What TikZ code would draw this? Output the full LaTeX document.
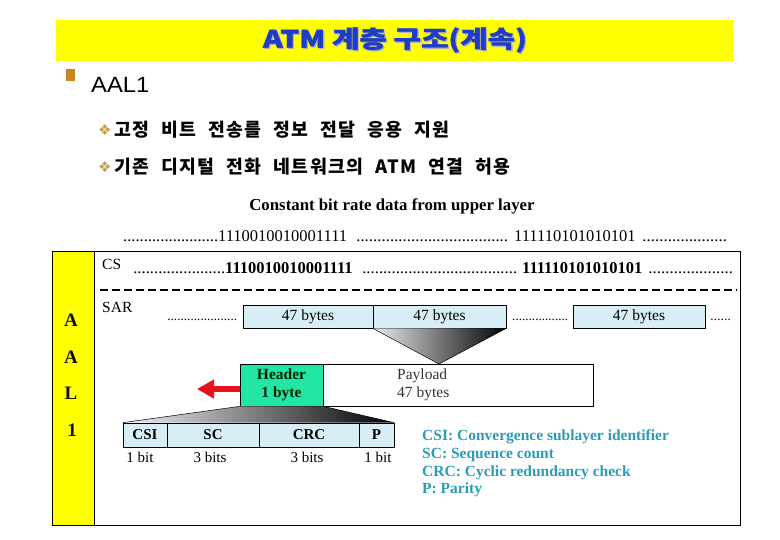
\documentclass[tikz,border=0pt]{standalone}
\usepackage{fontspec}
\setmainfont{Liberation Serif}
\newfontfamily\krfont[WordSpace=2.1,LetterSpace=8]{Noto Sans CJK KR}
\newfontfamily\titlefont[BoldFeatures={FakeBold=1.5}]{Noto Sans CJK KR}
\newfontfamily\arialfont{Liberation Sans}
\newfontfamily\djvfont{DejaVu Sans}
\usetikzlibrary{arrows.meta}
\definecolor{baryellow}{HTML}{FFFF00}
\definecolor{titleblue}{HTML}{1E3CC8}
\definecolor{sqgold}{HTML}{C8861E}
\definecolor{diagold}{HTML}{C9A04A}
\definecolor{boxblue}{HTML}{D8EEF6}
\definecolor{hdrgreen}{HTML}{22E6A6}
\definecolor{arrred}{HTML}{E8101A}
\definecolor{legteal}{HTML}{2A9CB6}
\newcommand\dts[1]{\hbox to #1pt{\xleaders\hbox{.}\hfill}}
\tikzset{
  every node/.style={inner sep=0pt},
  rowtxt/.style={anchor=base west, font=\fontsize{16.5}{18}\selectfont},
  byteb/.style={draw=black, line width=0.6pt, fill=boxblue, minimum height=23pt, font=\fontsize{15.5}{17}\selectfont},
  fieldb/.style={draw=black, line width=0.6pt, fill=boxblue, minimum height=24pt, font=\bfseries\fontsize{15}{17}\selectfont},
  bitlbl/.style={font=\fontsize{15}{17}\selectfont},
  aalletter/.style={font=\bfseries\fontsize{19}{21}\selectfont, text=black!90!brown},
  legend/.style={anchor=west, text=legteal, font=\bfseries\fontsize{15.5}{17}\selectfont},
  kr/.style={anchor=west, font=\krfont\bfseries\fontsize{18.3}{20}\selectfont},
  dia/.style={anchor=west, text=diagold, font=\djvfont\fontsize{15}{16}\selectfont},
}
\begin{document}
\begin{tikzpicture}[x=1pt,y=-1pt]
\useasboundingbox (0,0) rectangle (780,540);
% title bar
\node[fill=baryellow, minimum width=677pt, minimum height=41pt] (bar) at (394.5,40.5) {};
\node[text=black!30, font=\titlefont\bfseries\fontsize{24}{26}\selectfont] (titlesh) at (396.3,41.3) {\scalebox{1.24}[1]{ATM 계층 구조(계속)}};
\node[text=titleblue, font=\titlefont\bfseries\fontsize{24}{26}\selectfont] (title) at (395,40) {\scalebox{1.24}[1]{ATM 계층 구조(계속)}};
% bullets
\fill[sqgold] (66,69) rectangle (75,81);
\node[anchor=west, font=\arialfont\fontsize{22}{24}\selectfont] (aal) at (91,85) {\scalebox{1.08}[1]{AAL1}};
\node[dia] (d1) at (98,130) {❖};
\node[kr] (k1) at (114,130) {고정 비트 전송를 정보 전달 응용 지원};
\node[dia] (d2) at (98,167) {❖};
\node[kr] (k2) at (114,167) {기존 디지털 전화 네트워크의 ATM 연결 허용};
% diagram header
\node[font=\bfseries\fontsize{16.8}{18}\selectfont] (cbr) at (392,206) {Constant bit rate data from upper layer};
\node[rowtxt] (t1) at (123,241.5) {\dts{95}};
\node[rowtxt] (t2) at (218,241.5) {1110010010001111};
\node[rowtxt] (t3) at (356,241.5) {\dts{152}};
\node[rowtxt] (t4) at (514,241.5) {111110101010101};
\node[rowtxt] (t5) at (642,241.5) {\dts{85}};
% main box
\fill[baryellow] (52,251) rectangle (94,525);
\draw[line width=0.8pt] (52,251) rectangle (740,525);
\draw[line width=0.8pt] (94,251) -- (94,525);
\node[aalletter] (la1) at (71,320) {A};
\node[aalletter] (la2) at (71,357) {A};
\node[aalletter] (ll) at (71,393) {L};
\node[aalletter] (l1) at (72,430) {1};
% CS row
\node[anchor=base west, font=\fontsize{15.5}{17}\selectfont] (cs) at (102,270) {CS};
\node[rowtxt] (c1) at (133,273.5) {\dts{92}};
\node[rowtxt, font=\bfseries\fontsize{16.5}{18}\selectfont] (c2) at (225,273.5) {1110010010001111};
\node[rowtxt] (c3) at (362,273.5) {\dts{155}};
\node[rowtxt, font=\bfseries\fontsize{16.5}{18}\selectfont] (c4) at (522,273.5) {111110101010101};
\node[rowtxt] (c5) at (648,273.5) {\dts{85}};
\draw[line width=2.2pt, dash pattern=on 8pt off 4pt] (100,290) -- (737,290);
% SAR row
\node[anchor=base west, font=\fontsize{15.5}{17}\selectfont] (sar) at (102,313) {SAR};
\node[rowtxt, font=\fontsize{13}{15}\selectfont] (s1) at (167,321) {\dts{70}};
\node[byteb, minimum width=130pt] (b1) at (308,316.5) {47 bytes};
\node[byteb, minimum width=133pt] (b2) at (439.5,316.5) {47 bytes};
\node[rowtxt, font=\fontsize{13}{15}\selectfont] (s2) at (512,321) {\dts{56}};
\node[byteb, minimum width=132pt] (b3) at (639,316.5) {47 bytes};
\node[rowtxt, font=\fontsize{13}{15}\selectfont] (s3) at (710,321) {\dts{21}};
\coordinate (chev) at (439,364);
\shade[left color=black!8, right color=black] (b2.south west) -- (b2.south east) -- (chev) -- cycle;
\draw[line width=0.5pt] (b2.south west) -- (chev) -- (b2.south east);
% header / payload
\node[draw=black, line width=0.7pt, minimum width=270pt, minimum height=42pt] (pay) at (458,385) {};
\node[draw=black, line width=0.7pt, fill=hdrgreen, minimum width=83pt, minimum height=42pt, align=center, text=black!85!green, font=\bfseries\fontsize{15.5}{18}\selectfont] (hdr) at (281.5,385) {Header\\1 byte};
\node[anchor=west, align=left, text=black!80, font=\fontsize{15.5}{18}\selectfont] (paytxt) at (397,385) {Payload\\47 bytes};
\coordinate (arrtip) at (197,389);
\draw[arrred, line width=5.5pt, -{Triangle[length=17pt,width=18pt]}] (hdr.west |- arrtip) -- (arrtip);
% fields
\node[fieldb, minimum width=44pt] (fcsi) at (145,435) {CSI};
\node[fieldb, minimum width=92pt] (fsc) at (213,435) {SC};
\node[fieldb, minimum width=100pt] (fcrc) at (309,435) {CRC};
\node[fieldb, minimum width=35pt] (fp) at (376.5,435) {P};
\shade[left color=black!5, right color=black] (hdr.south west) -- (hdr.south east) -- (fp.north east) -- (fcsi.north west) -- cycle;
\draw[line width=0.5pt] (fcsi.north west) -- (hdr.south west);
\draw[line width=0.5pt] (fp.north east) -- (hdr.south east);
\node[bitlbl] (bt1) at (140,457) {1 bit};
\node[bitlbl] (bt2) at (210,457) {3 bits};
\node[bitlbl] (bt3) at (307,457) {3 bits};
\node[bitlbl] (bt4) at (378,457) {1 bit};
% legend
\node[legend] (lg1) at (422,437) {CSI: Convergence sublayer identifier};
\node[legend] (lg2) at (422,455) {SC: Sequence count};
\node[legend] (lg3) at (422,473) {CRC: Cyclic redundancy check};
\node[legend] (lg4) at (422,490) {P: Parity};
\end{tikzpicture}
\end{document}
